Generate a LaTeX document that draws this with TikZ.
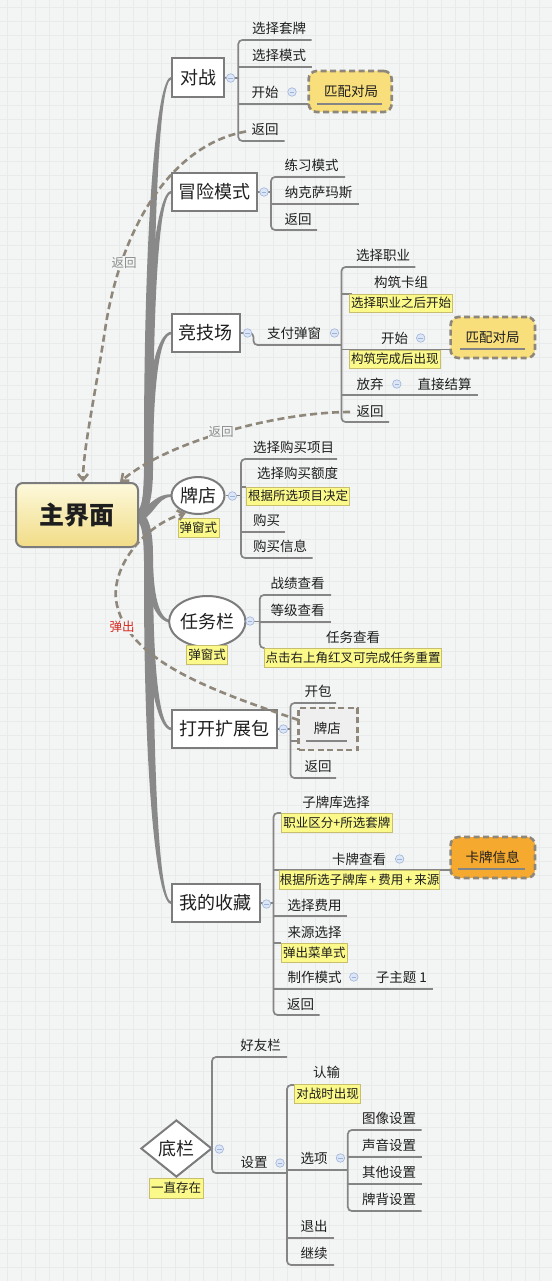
\documentclass[tikz,border=0pt]{standalone}
\usepackage{fontspec}
\setmainfont{Noto Sans CJK SC}
\usetikzlibrary{arrows.meta,shapes.geometric}
\definecolor{bgc}{HTML}{F3F4F4}
\definecolor{gridc}{HTML}{E9EBEB}
\definecolor{linec}{HTML}{858585}
\definecolor{trunkc}{HTML}{898989}
\definecolor{bordc}{HTML}{7C7C7C}
\definecolor{txtc}{HTML}{1E1E1E}
\definecolor{notef}{HTML}{FBF98A}
\definecolor{noted}{HTML}{C7BE6E}
\definecolor{dashc}{HTML}{8F877A}
\definecolor{matchf}{HTML}{F9DF7C}
\definecolor{cardf}{HTML}{F6A92F}
\definecolor{colf}{HTML}{DCE6F6}
\definecolor{cold}{HTML}{9EB3D8}
\definecolor{lblc}{HTML}{8C8C8C}
\definecolor{redc}{HTML}{D42A22}
\definecolor{mainA}{HTML}{FDF9DC}
\definecolor{mainB}{HTML}{F1DC86}
\definecolor{pdboxf}{HTML}{EFEFEF}
\tikzset{
  leaf/.style={inner sep=0pt, text=txtc, font=\fontsize{13.5}{15}\selectfont},
  topic/.style={draw=bordc, line width=2pt, fill=white, inner sep=0pt, text=txtc, font=\fontsize{18}{20}\selectfont},
  notebox/.style={draw=noted, line width=0.7pt, fill=notef, inner sep=0pt, text=txtc, font=\fontsize{12.5}{14}\selectfont},
  sub/.style={draw=linec, line width=1.7pt},
  subr/.style={sub, rounded corners=4pt},
  dashbox/.style={draw=dashc, line width=2.6pt, dash pattern=on 6pt off 3.5pt, rounded corners=8pt, inner sep=0pt, text=txtc, font=\fontsize{13.5}{15}\selectfont},
  dashlink/.style={draw=dashc, line width=2.6pt, dash pattern=on 7pt off 4pt},
  lbl/.style={inner sep=1pt, fill=bgc, font=\fontsize{12.5}{14}\selectfont},
  cbtn/.style={circle, draw=cold, fill=colf, line width=0.6pt, minimum size=8.5pt, inner sep=0pt},
  tipv/.style={-{Straight Barb[length=6pt,width=10pt]}},
}
\newcommand\mybtn[3]{\node[cbtn] (#1) at (#2,#3) {};
  \draw[cold, line width=0.8pt] ([xshift=-2.3pt]#1.center) -- ([xshift=2.3pt]#1.center);}
% upward branch: #1 = topic y, #2 = y where it leaves the trunk
\newcommand\upbr[2]{%
  \fill[trunkc] (136,511) .. controls (145,511) and (144,{#2+20}) .. (144,#2)
    .. controls (144,{#1+(#2-#1)*0.4}) and (156,{#1-1.3}) .. (171.5,{#1-1.3})
    -- (171.5,{#1+1.3}) .. controls (159,{#1+1.3}) and (153,{#1+(#2-#1)*0.4}) .. (153,#2)
    .. controls (153,{#2+20}) and (150,521) .. (136,521) -- cycle;}
% downward branch
\newcommand\downbr[2]{%
  \fill[trunkc] (136,511) .. controls (150,511) and (153,{#2-20}) .. (153,#2)
    .. controls (153,{#1-(#1-#2)*0.4}) and (159,{#1-1.3}) .. (171.5,{#1-1.3})
    -- (171.5,{#1+1.3}) .. controls (156,{#1+1.3}) and (144,{#1-(#1-#2)*0.4}) .. (144,#2)
    .. controls (144,{#2-20}) and (145,521) .. (136,521) -- cycle;}
\begin{document}
\begin{tikzpicture}[x=1pt,y=-1pt]
\useasboundingbox (0,0) rectangle (552,1281);
\fill[bgc] (0,0) rectangle (552,1281);
\foreach \gx in {7,21,...,552} \draw[gridc, line width=0.4pt] (\gx,0) -- (\gx,1281);
\foreach \gy in {7,21,...,1281} \draw[gridc, line width=0.4pt] (0,\gy) -- (552,\gy);

% trunk
\upbr{78}{450}
\upbr{192}{460}
\upbr{333}{470}
\fill[trunkc] (136,511) .. controls (148,511) and (152,494.2) .. (171.5,494.2)
  -- (171.5,496.8) .. controls (156,496.8) and (153,521) .. (136,521) -- cycle;
\downbr{621.5}{555}
\downbr{729}{570}
\downbr{903}{580}

% main node
\node[draw=bordc, line width=2pt, rounded corners=7pt, top color=mainA, bottom color=mainB,
  minimum width=122pt, minimum height=64pt, inner sep=0pt,
  font=\fontsize{25}{27}\selectfont\bfseries, text=txtc] (main) at (77,515) {主界面};

% ===== 对战
\node[topic, minimum width=52pt, minimum height=39pt] (dz) at (198,77.8) {对战};
\coordinate (dzB) at (238.3,78);
\draw[sub] (dz.east) -- (dzB);
\draw[subr] (311.6,40) -- (238.3,40) -- (238.3,141) -- (284.5,141);
\draw[sub] (238.3,67) -- (311.6,67);
\draw[sub] (238.3,104) -- (308.7,104);
\node[leaf] (dz1) at (279,28) {选择套牌};
\node[leaf] (dz2) at (279,55) {选择模式};
\node[leaf] (dz3) at (265,92) {开始};
\node[leaf] (dz4) at (265,129) {返回};
\node[dashbox, fill=matchf, minimum width=83pt, minimum height=41pt] (pp1) at (350.2,91.5) {};
\node[leaf] (pp1t) at (351,91.5) {匹配对局};
\draw[sub] (317,104) -- (382,104);

% ===== 冒险模式
\node[topic, minimum width=85.5pt, minimum height=38pt] (mx) at (214.3,192) {冒险模式};
\draw[sub] (mx.east) -- (271,192);
\draw[subr] (345,177) -- (271,177) -- (271,230) -- (317,230);
\draw[sub] (271,204) -- (359,204);
\node[leaf] (mx1) at (311.5,165) {练习模式};
\node[leaf] (mx2) at (318.5,192) {纳克萨玛斯};
\node[leaf] (mx3) at (298,219) {返回};

% ===== 竞技场
\node[topic, minimum width=68.5pt, minimum height=38pt] (jj) at (205.8,333) {竞技场};
\draw[subr] (jj.east) -- (253.5,333) -- (253.5,345) -- (341.5,345);
\draw[subr] (415.4,267) -- (341.5,267) -- (341.5,422) -- (389,422);
\draw[sub] (341.5,294) -- (352,294);
\draw[sub] (341.5,349.5) -- (450.6,349.5);
\draw[sub] (341.5,395) -- (477.7,395);
\node[leaf] (zf) at (294,333) {支付弹窗};
\node[leaf] (jj1) at (383,255) {选择职业};
\node[leaf] (jj2) at (401,282) {构筑卡组};
\node[notebox, minimum width=102.8pt, minimum height=18pt] (n1) at (401,303) {选择职业之后开始};
\node[leaf] (jj3) at (394.5,338) {开始};
\node[notebox, minimum width=90.4pt, minimum height=18pt] (n2) at (394.8,359) {构筑完成后出现};
\node[leaf] (jj4) at (370,384) {放弃};
\node[leaf] (jj5) at (444.6,384) {直接结算};
\node[leaf] (jj6) at (370,411) {返回};
\node[dashbox, fill=matchf, minimum width=84.4pt, minimum height=41pt] (pp2) at (492.8,337.5) {};
\node[leaf] (pp2t) at (492.5,337.5) {匹配对局};
\draw[sub] (459.5,349.3) -- (524.6,349.3);

% ===== 牌店
\node[topic, ellipse, minimum width=53pt, minimum height=37pt] (pd) at (198,495.5) {牌店};
\draw[sub] (pd.east) -- (241,495.5);
\draw[subr] (337,459) -- (241,459) -- (241,558) -- (312.6,558);
\draw[sub] (241,487) -- (246.4,487);
\draw[sub] (241,532) -- (285,532);
\node[notebox, minimum width=41pt, minimum height=19pt] (n3) at (198.4,528) {弹窗式};
\node[leaf] (pd1) at (293.5,447) {选择购买项目};
\node[leaf] (pd2l) at (297.6,473) {选择购买额度};
\node[notebox, minimum width=103pt, minimum height=18pt] (n4) at (298,496) {根据所选项目决定};
\node[leaf] (pd3) at (266.6,520) {购买};
\node[leaf] (pd4) at (280,546.5) {购买信息};

% ===== 任务栏
\node[topic, ellipse, minimum width=71.5pt, minimum height=51pt] (rw) at (207.3,621.5) {任务栏};
\draw[sub] (rw.east) -- (259.8,621.5);
\draw[subr] (331,595) -- (259.8,595) -- (259.8,648) -- (264.7,648);
\draw[sub] (259.8,622) -- (331,622);
\node[notebox, minimum width=41pt, minimum height=19pt] (n5) at (207,655) {弹窗式};
\node[leaf] (rw1) at (297.5,583) {战绩查看};
\node[leaf] (rw2) at (297.5,610) {等级查看};
\node[leaf] (rw3) at (353,637) {任务查看};
\node[notebox, minimum width=177pt, minimum height=19pt] (n6) at (353.2,657.5) {点击右上角红叉可完成任务重置};

% ===== 打开扩展包
\node[topic, minimum width=105pt, minimum height=38pt] (kb) at (224,729) {打开扩展包};
\draw[sub] (kb.east) -- (290.4,729);
\draw[subr] (336,703) -- (290.4,703) -- (290.4,778) -- (336,778);
\draw[sub] (290.4,741) -- (298.5,741);
\node[leaf] (kb1) at (318,691.5) {开包};
\node[draw=dashc, line width=2.4pt, dash pattern=on 6pt off 3.5pt, fill=pdboxf, inner sep=0pt,
  minimum width=58.8pt, minimum height=42pt] (pdb) at (328,729) {};
\node[leaf] (pdbt) at (327.4,728.5) {牌店};
\draw[sub] (306,741) -- (347,741);
\node[leaf] (kb3) at (318,766.5) {返回};

% ===== 我的收藏
\node[topic, minimum width=88pt, minimum height=38pt] (sc) at (215.5,903) {我的收藏};
\draw[sub] (sc.east) -- (273.5,903);
\draw[subr] (281,813) -- (273.5,813) -- (273.5,1015) -- (319.7,1015);
\draw[sub] (273.5,870) -- (450.6,870);
\draw[sub] (273.5,916) -- (346.8,916);
\draw[sub] (273.5,943) -- (281,943);
\draw[sub] (273.5,989) -- (433,989);
\node[leaf] (sc1) at (336,802) {子牌库选择};
\node[notebox, minimum width=111.5pt, minimum height=19pt] (n7) at (336.8,823) {职业区分+所选套牌};
\node[leaf] (sc2) at (359,859) {卡牌查看};
\node[notebox, minimum width=157.3pt, minimum height=19pt] (n8) at (359.6,879.5) {根据所选子牌库\,+\,费用\,+\,来源};
\node[dashbox, fill=cardf, minimum width=84.4pt, minimum height=41pt] (kp) at (492.8,857.5) {};
\node[leaf] (kpt) at (492.5,857) {卡牌信息};
\draw[sub] (457.7,869.3) -- (524.6,869.3);
\node[leaf] (sc3) at (314.5,905) {选择费用};
\node[leaf] (sc4) at (314.5,932) {来源选择};
\node[notebox, minimum width=66.8pt, minimum height=19pt] (n9) at (314.4,952.5) {弹出菜单式};
\node[leaf] (sc5) at (314.5,977) {制作模式};
\node[leaf] (sc6) at (401.4,977) {子主题 1};
\node[leaf] (sc7) at (300.6,1004) {返回};

% ===== 底栏
\node[topic, diamond, minimum width=71pt, minimum height=57pt] (dl) at (176.4,1148.5) {底栏};
\draw[subr] (287,1057) -- (212,1057) -- (212,1173) -- (287,1173);
\draw[subr] (294.7,1085) -- (287,1085) -- (287,1265) -- (334,1265);
\draw[sub] (287,1170) -- (347.8,1170);
\draw[sub] (287,1238) -- (333.7,1238);
\draw[subr] (421.7,1130) -- (347.8,1130) -- (347.8,1211) -- (421.7,1211);
\draw[sub] (347.8,1157) -- (421.7,1157);
\draw[sub] (347.8,1184) -- (421.7,1184);
\node[notebox, minimum width=54.5pt, minimum height=20pt] (n10) at (176.2,1188) {一直存在};
\node[leaf] (dl1) at (260.6,1045) {好友栏};
\node[leaf] (dl2) at (254,1162) {设置};
\node[leaf] (dl3) at (326.5,1072) {认输};
\node[notebox, minimum width=66pt, minimum height=19pt] (n11) at (327.7,1093.5) {对战时出现};
\node[leaf] (dl4) at (314,1158) {选项};
\node[leaf] (dl5) at (389,1118) {图像设置};
\node[leaf] (dl6) at (389,1145) {声音设置};
\node[leaf] (dl7) at (389,1172) {其他设置};
\node[leaf] (dl8) at (389,1199) {牌背设置};
\node[leaf] (dl9) at (314,1226) {退出};
\node[leaf] (dl10) at (314,1253) {继续};

% collapse buttons
\mybtn{b1}{230.6}{78}
\mybtn{b2}{292}{92}
\mybtn{b3}{264}{192}
\mybtn{b4}{247.5}{333}
\mybtn{b5}{334.5}{333}
\mybtn{b6}{420.7}{338}
\mybtn{b7}{396.8}{384}
\mybtn{b8}{232.4}{496}
\mybtn{b9}{250}{621}
\mybtn{b10}{283.4}{729}
\mybtn{b11}{266.5}{904}
\mybtn{b12}{399.6}{859}
\mybtn{b13}{353.8}{977}
\mybtn{b14}{219.3}{1149}
\mybtn{b15}{280}{1163}
\mybtn{b16}{340.4}{1158}

% dashed relation links
\coordinate (r1s) at (246,131.5);
\coordinate (r2s) at (350,412);
\coordinate (r3s) at (298.5,720);
\draw[dashlink, tipv] (r1s) .. controls (170,145) and (120,230) .. (105,330)
   .. controls (96,390) and (83,450) .. ([xshift=6pt]main.north);
\draw[dashlink, tipv] (r2s) .. controls (280,412) and (170,440) .. ([xshift=43pt]main.north);
\draw[dashlink, tipv] (r3s) .. controls (210,690) and (125,660) .. (116,600)
   .. controls (112,565) and (145,525) .. (pd.235);
\node[lbl, text=lblc] (l1) at (124,263) {返回};
\node[lbl, text=lblc] (l2) at (221,432) {返回};
\node[lbl, text=redc] (l3) at (122,627) {弹出};
\end{tikzpicture}
\end{document}
